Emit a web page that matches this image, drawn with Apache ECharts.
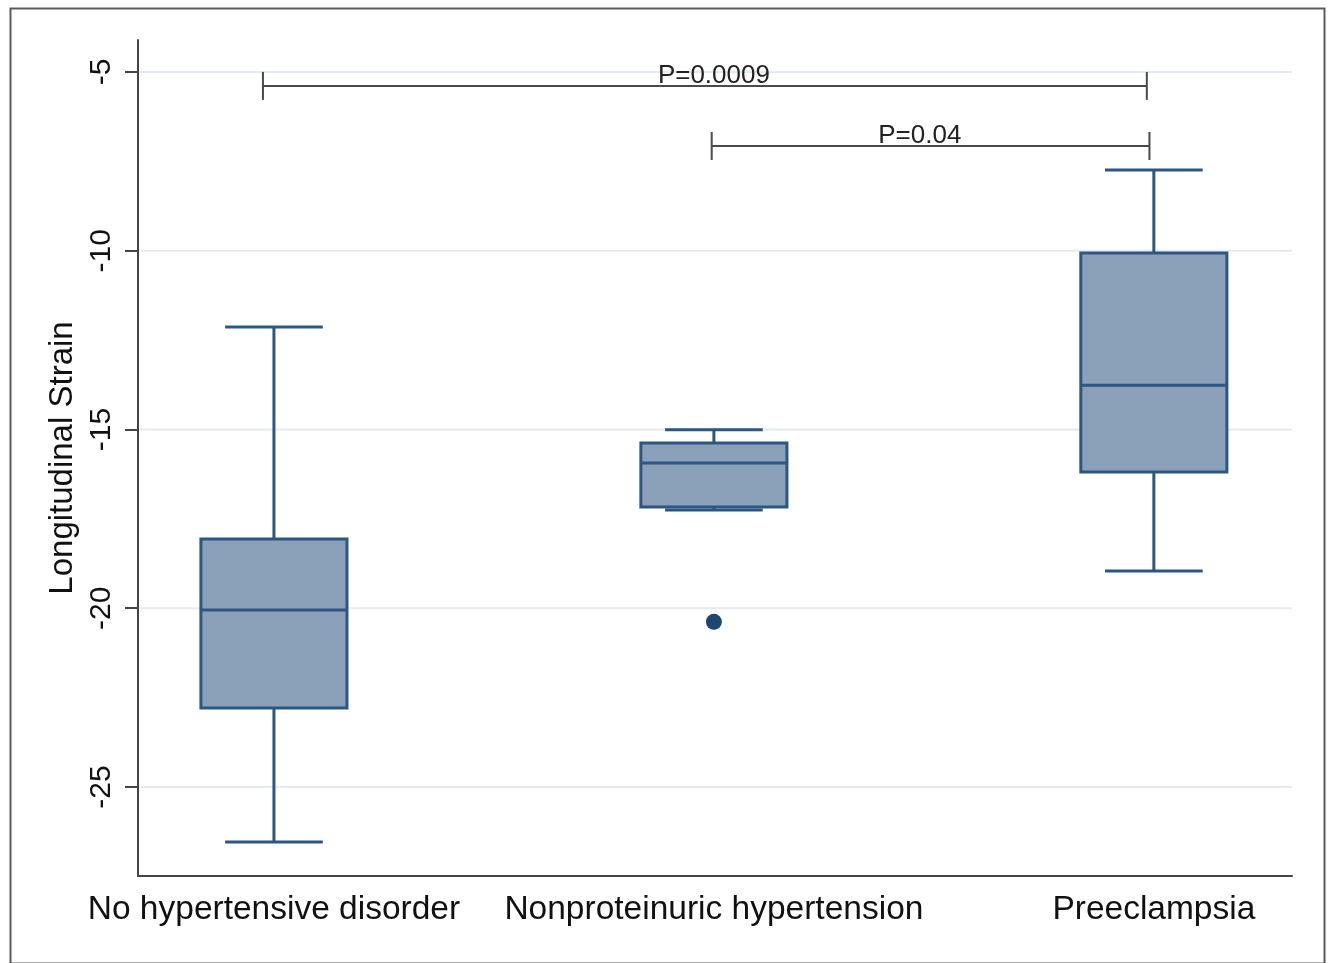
<!DOCTYPE html>
<html>
<head>
<meta charset="utf-8">
<script src="https://cdn.jsdelivr.net/npm/echarts@6/dist/echarts.min.js"></script>
<style>html,body{margin:0;padding:0;background:#fff}#c{width:1333px;height:963px}</style>
</head>
<body>
<div id="c"></div>
<script>
// ---- data ----
const categories = ['No hypertensive disorder', 'Nonproteinuric hypertension', 'Preeclampsia'];
const groupPos = [1, 2, 3];
const whiskerLow = [-26.54, -17.25, -18.96];
const q1 = [-22.79, -17.17, -16.19];
const median = [-20.05, -15.94, -13.76];
const q3 = [-18.06, -15.38, -10.06];
const whiskerHigh = [-12.13, -15.01, -7.74];
const outlierGroup = [2];
const outlierValue = [-20.38];
const yTicks = [-25, -20, -15, -10, -5];
const bracketFrom = [0.975, 1.995];
const bracketTo = [2.984, 2.99];
const bracketLevel = [-5.39, -7.07];
const pLabelPos = [2.0, 2.468];
const pLabels = ['P=0.0009', 'P=0.04'];
const yAxisName = 'Longitudinal Strain';

const FONT = '"Liberation Sans", Arial, Helvetica, sans-serif';
const BOX_FILL = '#8aa1b9';
const BOX_STROKE = '#2b5782';
const GRID_COLOR = '#e3ebee';
const AXIS_COLOR = '#444';

const boxData = groupPos.map((x, i) => [x, whiskerLow[i], q1[i], median[i], q3[i], whiskerHigh[i]]);
const outlierData = outlierGroup.map((g, i) => [g, outlierValue[i]]);
const bracketData = bracketFrom.map((f, i) => [f, bracketTo[i], bracketLevel[i], pLabelPos[i], i]);

const chart = echarts.init(document.getElementById('c'), null, {renderer: 'canvas'});
chart.setOption({
  animation: false,
  backgroundColor: '#fff',
  grid: {left: 138, right: 41, top: 40, bottom: 87, containLabel: false},
  graphic: [{
    type: 'rect', left: 8, top: 6, z: -10, silent: true,
    shape: {width: 1314, height: 955},
    style: {fill: 'none', stroke: '#5a5a5a', lineWidth: 2}
  }],
  xAxis: {
    type: 'value', min: 0.691, max: 3.314,
    axisLine: {show: true, onZero: false, lineStyle: {color: AXIS_COLOR, width: 2}},
    axisTick: {show: false},
    splitLine: {show: false},
    axisLabel: {
      customValues: groupPos,
      formatter: v => categories[Math.round(v) - 1] || '',
      color: '#111', fontFamily: FONT, fontSize: 33.5, margin: 17
    }
  },
  yAxis: {
    type: 'value', min: -27.49, max: -4.105,
    name: yAxisName, nameLocation: 'middle', nameGap: 58,
    nameTextStyle: {color: '#111', fontFamily: FONT, fontSize: 33},
    axisLine: {show: true, onZero: false, lineStyle: {color: AXIS_COLOR, width: 2}},
    axisTick: {show: true, customValues: yTicks, length: 13, lineStyle: {color: AXIS_COLOR, width: 2}},
    splitLine: {show: false},
    axisLabel: {
      customValues: yTicks, rotate: 90,
      color: '#111', fontFamily: FONT, fontSize: 30, margin: 21
    }
  },
  series: [
    {
      type: 'custom', name: 'grid', z: 1, silent: true,
      data: yTicks.map(v => [v]),
      renderItem: function (params, api) {
        const cs = params.coordSys;
        const y = api.coord([1, api.value(0)])[1];
        return {type: 'line', shape: {x1: cs.x + 2, y1: y, x2: cs.x + cs.width, y2: y},
          style: {stroke: GRID_COLOR, lineWidth: 2}};
      }
    },
    {
      type: 'custom', name: 'box', z: 3,
      data: boxData,
      renderItem: function (params, api) {
        const x = api.value(0);
        const pLo = api.coord([x, api.value(1)]);
        const pQ1 = api.coord([x, api.value(2)]);
        const pMed = api.coord([x, api.value(3)]);
        const pQ3 = api.coord([x, api.value(4)]);
        const pHi = api.coord([x, api.value(5)]);
        const halfBox = api.size([0.166, 0])[0];
        const halfCap = api.size([0.111, 0])[0];
        const cx = pMed[0];
        const ls = {stroke: BOX_STROKE, lineWidth: 3, fill: null};
        return {type: 'group', children: [
          {type: 'line', shape: {x1: cx, y1: pHi[1], x2: cx, y2: pQ3[1]}, style: ls},
          {type: 'line', shape: {x1: cx, y1: pQ1[1], x2: cx, y2: pLo[1]}, style: ls},
          {type: 'line', shape: {x1: cx - halfCap, y1: pHi[1], x2: cx + halfCap, y2: pHi[1]}, style: ls},
          {type: 'line', shape: {x1: cx - halfCap, y1: pLo[1], x2: cx + halfCap, y2: pLo[1]}, style: ls},
          {type: 'rect', shape: {x: cx - halfBox, y: pQ3[1], width: 2 * halfBox, height: pQ1[1] - pQ3[1]},
            style: {fill: BOX_FILL, stroke: BOX_STROKE, lineWidth: 3}},
          {type: 'line', shape: {x1: cx - halfBox, y1: pMed[1], x2: cx + halfBox, y2: pMed[1]}, style: ls}
        ]};
      }
    },
    {
      type: 'scatter', name: 'outlier', z: 4,
      data: outlierData, symbol: 'circle', symbolSize: 16,
      itemStyle: {color: '#1c4673', opacity: 1}
    },
    {
      type: 'custom', name: 'brackets', z: 5, silent: true,
      data: bracketData,
      renderItem: function (params, api) {
        const a = api.coord([api.value(0), api.value(2)]);
        const b = api.coord([api.value(1), api.value(2)]);
        const t = api.coord([api.value(3), api.value(2)]);
        const idx = api.value(4);
        const ls = {stroke: '#4a4a4a', lineWidth: 2};
        return {type: 'group', children: [
          {type: 'line', shape: {x1: a[0], y1: a[1], x2: b[0], y2: b[1]}, style: ls},
          {type: 'line', shape: {x1: a[0], y1: a[1] - 14, x2: a[0], y2: a[1] + 14}, style: ls},
          {type: 'line', shape: {x1: b[0], y1: b[1] - 14, x2: b[0], y2: b[1] + 14}, style: ls},
          {type: 'text', style: {x: t[0], y: t[1] + 3, text: pLabels[idx],
            fill: '#222', font: '26px ' + FONT, textAlign: 'center', textVerticalAlign: 'bottom'}}
        ]};
      }
    }
  ]
});
</script>
</body>
</html>
